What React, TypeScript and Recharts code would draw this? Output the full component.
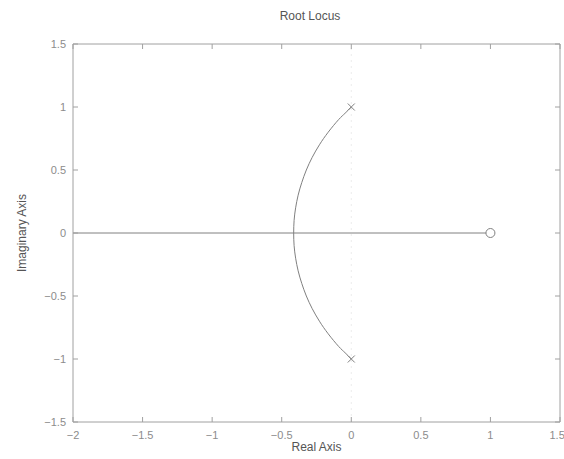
import { ComposedChart, Line, Scatter, XAxis, YAxis, ReferenceLine, Label } from "recharts";

// Branch on the real axis, from the left edge to the zero
const realBranch = [
  { x: -2, y: 0 },
  { x: 1, y: 0 },
];

// Complex branch: from the upper pole, through the break-in point, down to the lower pole
const arcReal = [0, -0.045, -0.091, -0.166, -0.229, -0.281, -0.323, -0.356, -0.382, -0.4, -0.411, -0.414,
  -0.411, -0.4, -0.382, -0.356, -0.323, -0.281, -0.229, -0.166, -0.091, -0.045, 0];
const arcImag = [1, 0.95, 0.9, 0.8, 0.7, 0.6, 0.5, 0.4, 0.3, 0.2, 0.1, 0,
  -0.1, -0.2, -0.3, -0.4, -0.5, -0.6, -0.7, -0.8, -0.9, -0.95, -1];
const arcBranch = arcReal.map((x, i) => ({ x, y: arcImag[i] }));

const poles = [
  { x: 0, y: 1 },
  { x: 0, y: -1 },
];
const zeros = [{ x: 1, y: 0 }];

const xTicks = [-2, -1.5, -1, -0.5, 0, 0.5, 1, 1.5];
const yTicks = [-1.5, -1, -0.5, 0, 0.5, 1, 1.5];

const INK = "#808080";
const AXIS = "#a0a0a0";
const TEXT = "#8c8c8c";
const FONT = "'Liberation Sans', Arial, sans-serif";

const fmt = (v: number) => (v < 0 ? "\u2212" + String(-v) : String(v));

function Cross(props: any) {
  const { cx, cy } = props;
  const r = 3.5;
  return (
    <g stroke={INK} strokeWidth={1}>
      <line x1={cx - r} y1={cy - r} x2={cx + r} y2={cy + r} />
      <line x1={cx - r} y1={cy + r} x2={cx + r} y2={cy - r} />
    </g>
  );
}

function Ring(props: any) {
  const { cx, cy } = props;
  return <circle cx={cx} cy={cy} r={4.5} fill="#fff" stroke={INK} strokeWidth={1} />;
}

export default function App() {
  const tickStyle = { fill: TEXT, fontSize: 11, fontFamily: FONT };
  return (
    <div style={{ position: "absolute", left: 0, top: 0, width: 564, height: 459, background: "#fff", fontFamily: FONT }}>
      <div style={{ position: "absolute", top: 9, left: 0, width: 620, textAlign: "center", fontSize: 12, color: "#555" }}>
        Root Locus
      </div>
      <ComposedChart width={564} height={459} margin={{ top: 43, right: 3, bottom: 7, left: 33 }}>
        <XAxis
          xAxisId="b"
          dataKey="x"
          type="number"
          domain={[-2, 1.5]}
          ticks={xTicks}
          allowDataOverflow
          tickFormatter={fmt}
          tick={tickStyle}
          tickSize={-5}
          tickMargin={14}
          height={30}
          stroke={AXIS}
        >
          <Label value="Real Axis" position="insideBottom" offset={1} style={{ fill: "#555", fontSize: 12, fontFamily: FONT }} />
        </XAxis>
        <XAxis
          xAxisId="t"
          orientation="top"
          dataKey="x"
          type="number"
          domain={[-2, 1.5]}
          ticks={xTicks}
          allowDataOverflow
          tickFormatter={() => ""}
          tickSize={-5}
          height={1}
          stroke={AXIS}
        />
        <YAxis
          yAxisId="l"
          dataKey="y"
          type="number"
          domain={[-1.5, 1.5]}
          ticks={yTicks}
          allowDataOverflow
          tickFormatter={fmt}
          tick={tickStyle}
          tickSize={-5}
          tickMargin={12}
          width={40}
          stroke={AXIS}
        >
          <Label value="Imaginary Axis" angle={-90} position="insideLeft" offset={-11} style={{ fill: "#555", fontSize: 12, fontFamily: FONT, textAnchor: "middle" }} />
        </YAxis>
        <YAxis
          yAxisId="r"
          orientation="right"
          dataKey="y"
          type="number"
          domain={[-1.5, 1.5]}
          ticks={yTicks}
          allowDataOverflow
          tickFormatter={() => ""}
          tickSize={-5}
          width={1}
          stroke={AXIS}
        />
        <ReferenceLine xAxisId="b" yAxisId="l" x={0} stroke="#ececec" strokeDasharray="2 4" />
        <Line
          xAxisId="b"
          yAxisId="l"
          data={realBranch}
          dataKey="y"
          type="linear"
          stroke={INK}
          strokeWidth={1}
          dot={false}
          isAnimationActive={false}
        />
        <Line
          xAxisId="b"
          yAxisId="l"
          data={arcBranch}
          dataKey="y"
          type="natural"
          stroke={INK}
          strokeWidth={1}
          dot={false}
          isAnimationActive={false}
        />
        <Scatter xAxisId="b" yAxisId="l" data={poles} dataKey="y" shape={Cross} isAnimationActive={false} />
        <Scatter xAxisId="b" yAxisId="l" data={zeros} dataKey="y" shape={Ring} isAnimationActive={false} />
      </ComposedChart>
    </div>
  );
}
